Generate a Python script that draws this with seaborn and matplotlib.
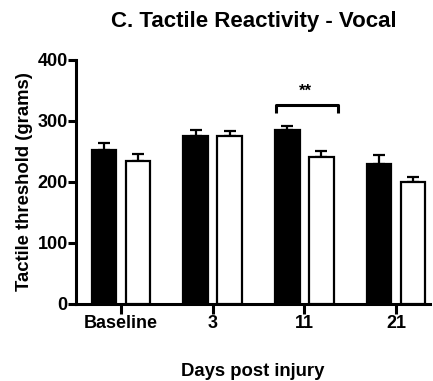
import matplotlib
matplotlib.use("Agg")
import matplotlib.pyplot as plt
import seaborn as sns
import pandas as pd
import numpy as np

categories = ["Baseline", "3", "11", "21"]
groups = ["Group A", "Group B"]
means_a = [252, 275, 284, 229]
means_b = [234, 275, 241, 200]
sem_a = [12, 10, 8, 14]
sem_b = [12, 8, 9, 8]
yticks = [0, 100, 200, 300, 400]

sns.set_theme(style="ticks")
plt.rcParams['font.family'] = ['Liberation Sans', 'DejaVu Sans']
plt.rcParams['font.weight'] = 'bold'
plt.rcParams['text.color'] = 'black'
plt.rcParams['axes.labelcolor'] = 'black'
plt.rcParams['xtick.color'] = 'black'
plt.rcParams['ytick.color'] = 'black'

df = pd.DataFrame({
    "day": categories * 2,
    "value": means_a + means_b,
    "group": [groups[0]] * 4 + [groups[1]] * 4,
})

fig = plt.figure(figsize=(4.33, 3.81), dpi=100)
ax = fig.add_axes([76/433, 1-304/381, (430-76)/433, (304-59.5)/381])

sns.barplot(data=df, x="day", y="value", hue="group", order=categories,
            hue_order=groups, palette=["black", "white"], edgecolor="black",
            linewidth=1.6, width=0.74, gap=0.27, errorbar=None, legend=False, ax=ax,
            zorder=3)

# error bars (upper only)
patches = [p for p in ax.patches]
errs = sem_a + sem_b
vals = means_a + means_b
for p, v, e in zip(patches, vals, errs):
    cx = p.get_x() + p.get_width() / 2
    ax.errorbar([cx], [v], yerr=[[0], [e]], fmt="none", ecolor="black",
                elinewidth=1.6, capsize=4.5, capthick=1.6, zorder=2)

# significance bracket for day 11
x0, x1 = 2 - 0.31, 2 + 0.37
yb = 325
ax.plot([x0, x0, x1, x1], [yb - 12, yb, yb, yb - 12], color="black", lw=2.2,
        solid_capstyle="butt", clip_on=False)
ax.text((x0 + x1) / 2 - 0.02, yb + 11, "**", ha="center", va="bottom",
        fontsize=12, fontweight="bold")

ax.set_ylim(0, 400)
ax.set_xlim(-0.49, 3.37)
ax.set_yticks(yticks)
ax.set_yticklabels([str(t) for t in yticks], fontsize=13, fontweight="bold")
ax.set_xticks(range(len(categories)))
ax.set_xticklabels(categories, fontsize=13, fontweight="bold")
ax.tick_params(axis="y", width=2.2, length=6, pad=0)
ax.tick_params(axis="x", width=2.2, length=7, pad=1)
for s in ["left", "bottom"]:
    ax.spines[s].set_linewidth(2.2)
    ax.spines[s].set_color("black")
sns.despine(ax=ax)

ax.set_ylabel("Tactile threshold (grams)", fontsize=13.3, fontweight="bold", labelpad=3)
ax.set_xlabel("Days post injury", fontsize=13.3, fontweight="bold", labelpad=22)
fig.text(254/433, 1 - 22/381, "C. Tactile Reactivity - Vocal", ha="center", va="center",
         fontsize=16, fontweight="bold")

fig.savefig("out.png", dpi=100)
